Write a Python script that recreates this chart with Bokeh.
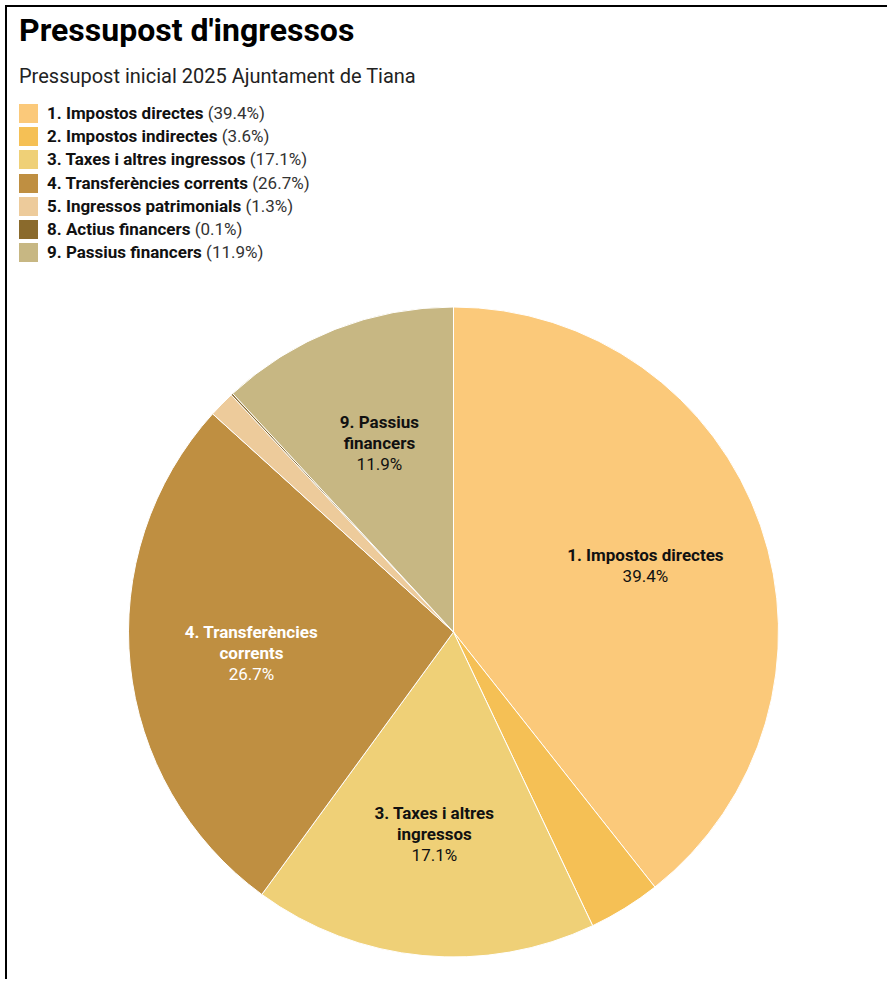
import math
from bokeh.plotting import figure
from bokeh.models import Div, Range1d, ColumnDataSource
from bokeh.layouts import column
from bokeh.embed import file_html
from bokeh.resources import INLINE
from bokeh.core.properties import value

title = "Pressupost d'ingressos"
subtitle = "Pressupost inicial 2025 Ajuntament de Tiana"

categories = ["1. Impostos directes", "2. Impostos indirectes", "3. Taxes i altres ingressos",
              "4. Transferències corrents", "5. Ingressos patrimonials", "8. Actius financers",
              "9. Passius financers"]
shares = [39.4, 3.6, 17.1, 26.7, 1.3, 0.1, 11.9]
colors = ["#FBC97A", "#F5C055", "#EFD077", "#BF8F41", "#EDCB9B", "#8A6A2C", "#C7B783"]
pie_labels = [["1. Impostos directes"], None, ["3. Taxes i altres", "ingressos"],
              ["4. Transferències", "corrents"], None, None, ["9. Passius", "financers"]]
label_colors = ["#111111", None, "#111111", "#FFFFFF", None, None, "#111111"]

W = 880
HEADER_H = 290

# ---------- header (title, subtitle, legend) ----------
rows = []
for i, (c, s, col) in enumerate(zip(categories, shares, colors)):
    top = 97 + i * 23.2
    rows.append(
        f'<div style="position:absolute;left:12px;top:{top:.1f}px;width:19px;height:19px;background:{col}"></div>'
        f'<div style="position:absolute;left:40px;top:{top:.1f}px;font-size:17px;line-height:19px;white-space:nowrap;color:#111">'
        f'<b style="font-weight:700">{c}</b> <span style="color:#333">({s}%)</span></div>'
    )
html = (
    f'<div style="position:relative;width:{W}px;height:{HEADER_H}px;font-family:Roboto,sans-serif;color:#000">'
    f'<div style="position:absolute;left:12px;top:7px;font-size:32px;font-weight:700;line-height:1;white-space:nowrap">{title}</div>'
    f'<div style="position:absolute;left:12px;top:59px;font-size:20px;line-height:1;color:#222;white-space:nowrap">{subtitle}</div>'
    + "".join(rows) + '</div>'
)
header = Div(text=html, width=W, height=HEADER_H, margin=(0, 0, 0, 0))

# ---------- pie ----------
H = 682
p = figure(width=W, height=H, output_backend="svg", toolbar_location=None,
           x_range=Range1d(0, W), y_range=Range1d(0, H), min_border=0,
           x_axis_location=None, y_axis_location=None, outline_line_color=None,
           margin=(0, 0, 0, 0))
p.grid.visible = False

cx, cy, R = 446, 347.5, 325
total = sum(shares)
starts, ends, mids = [], [], []
cum = 0.0
for s in shares:
    a0 = math.pi / 2 - 2 * math.pi * cum / total
    cum += s
    a1 = math.pi / 2 - 2 * math.pi * cum / total
    starts.append(a0)
    ends.append(a1)
    mids.append((a0 + a1) / 2)

src = ColumnDataSource(dict(start=starts, end=ends, color=colors))
p.wedge(x=cx, y=cy, radius=R, start_angle="start", end_angle="end", direction="clock",
        fill_color="color", line_color="white", line_width=1, source=src)

bx, by, bt, bc = [], [], [], []
nx, ny, nt, nc = [], [], [], []
spacing = 21
for lines, s, m, lc in zip(pie_labels, shares, mids, label_colors):
    if lines is None:
        continue
    lx = cx + 0.625 * R * math.cos(m)
    ly = cy + 0.625 * R * math.sin(m)
    n = len(lines) + 1
    for k, ln in enumerate(lines):
        bx.append(lx)
        by.append(ly + (n - 1) / 2 * spacing - k * spacing)
        bt.append(ln)
        bc.append(lc)
    nx.append(lx)
    ny.append(ly + (n - 1) / 2 * spacing - (n - 1) * spacing)
    nt.append(f"{s}%")
    nc.append(lc)

p.text(x=bx, y=by, text=bt, text_color=bc, text_font=value("Roboto"), text_font_style="bold",
       text_font_size="17px", text_align="center", text_baseline="middle")
p.text(x=nx, y=ny, text=nt, text_color=nc, text_font=value("Roboto"),
       text_font_size="17px", text_align="center", text_baseline="middle")

layout = column(header, p, margin=(5, 0, 0, 5),
                styles={"border-left": "2px solid #000", "border-top": "2px solid #000"})
open("out.html", "w").write(file_html(layout, INLINE))
